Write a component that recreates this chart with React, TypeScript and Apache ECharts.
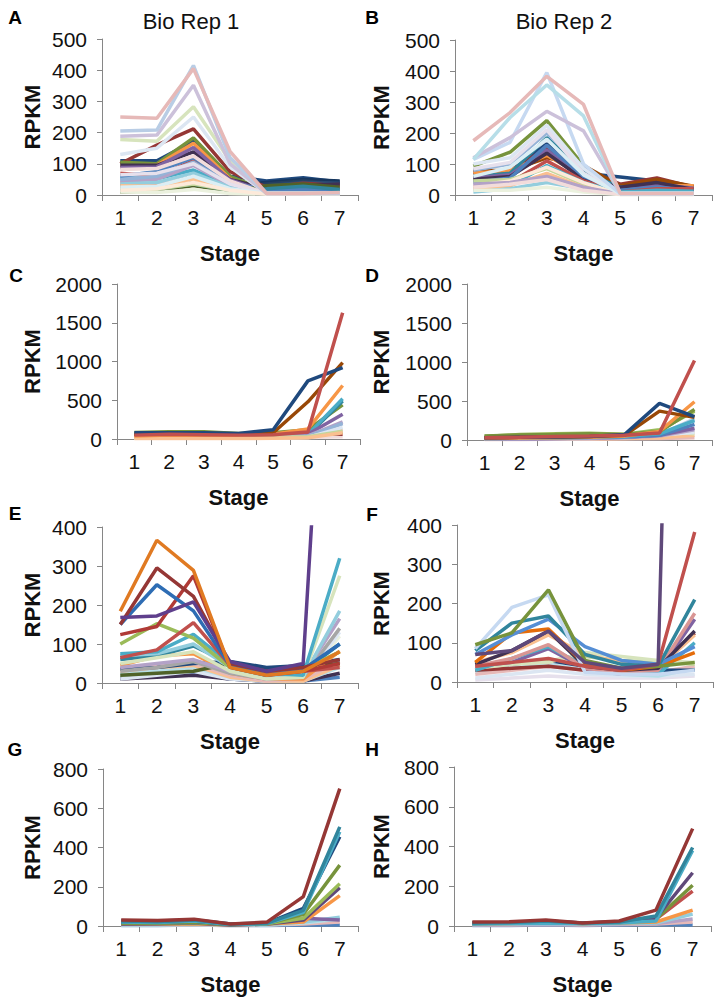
import React, { useEffect, useRef } from "react";
import * as echarts from "echarts";

const stages = ["1", "2", "3", "4", "5", "6", "7"];

// Panel A – Bio Rep 1
const repA: number[][] = [
  [110, 110, 172, 60, 45, 55, 42],
  [30, 35, 60, 30, 40, 50, 45],
  [25, 28, 50, 25, 35, 45, 35],
  [20, 22, 40, 20, 30, 40, 38],
  [100, 160, 212, 75, 25, 38, 30],
  [70, 60, 110, 40, 20, 30, 25],
  [105, 100, 183, 60, 15, 20, 20],
  [92, 95, 166, 52, 5, 8, 10],
  [95, 95, 138, 50, 20, 30, 35],
  [88, 90, 152, 48, 10, 15, 20],
  [55, 52, 80, 30, 10, 22, 15],
  [60, 75, 120, 40, 15, 18, 15],
  [10, 12, 30, 10, 30, 35, 25],
  [15, 20, 35, 15, 20, 28, 18],
  [40, 35, 55, 20, 5, 5, 5],
  [45, 50, 95, 30, 5, 5, 5],
  [35, 40, 70, 25, 5, 5, 5],
  [30, 28, 50, 18, 5, 5, 5],
  [20, 18, 35, 15, 5, 5, 5],
  [50, 60, 105, 35, 5, 5, 5],
  [130, 150, 250, 90, 5, 5, 5],
  [82, 85, 125, 45, 5, 5, 5],
  [10, 8, 18, 5, 3, 3, 3],
  [65, 70, 100, 35, 5, 5, 5],
  [25, 28, 60, 20, 5, 5, 5],
  [15, 20, 40, 15, 3, 3, 3],
  [178, 172, 283, 110, 5, 5, 5],
  [188, 192, 352, 100, 5, 5, 5],
  [205, 208, 415, 120, 5, 5, 5],
  [250, 246, 405, 140, 5, 5, 8],
];
const colA = [
  "#1F497D", "#17375E", "#254061", "#2C4D75", "#953735", "#C0504D", "#77933C", "#F79646",
  "#403152", "#8064A2", "#4BACC6", "#4F81BD", "#4F6228", "#31859C", "#D99694", "#B3A2C7",
  "#93CDDD", "#FAC090", "#C3D69B", "#95B3D7", "#DCE6F2", "#F2DCDB", "#EBF1DE", "#E6E0EC",
  "#DBEEF4", "#FDEADA", "#D7E4BD", "#CCC1DA", "#B9CDE5", "#E6B9B8",
];

// Panel B – Bio Rep 2
const repB: number[][] = [
  [65, 75, 165, 70, 58, 45, 20],
  [75, 80, 150, 85, 35, 55, 25],
  [80, 78, 120, 95, 30, 50, 28],
  [70, 80, 128, 60, 20, 30, 30],
  [93, 138, 240, 95, 10, 25, 15],
  [60, 70, 185, 75, 25, 30, 20],
  [55, 65, 145, 55, 20, 35, 22],
  [50, 60, 135, 50, 25, 40, 18],
  [40, 55, 160, 60, 15, 25, 15],
  [30, 40, 110, 45, 10, 20, 20],
  [20, 30, 95, 40, 10, 15, 12],
  [45, 50, 85, 35, 5, 5, 5],
  [20, 30, 70, 25, 3, 3, 3],
  [30, 45, 90, 40, 3, 3, 3],
  [10, 20, 40, 20, 3, 3, 3],
  [35, 40, 60, 25, 3, 3, 3],
  [15, 15, 25, 10, 2, 2, 2],
  [25, 35, 50, 15, 2, 2, 2],
  [80, 100, 200, 90, 5, 5, 5],
  [100, 120, 225, 85, 5, 5, 5],
  [85, 105, 210, 70, 5, 5, 5],
  [60, 90, 180, 65, 5, 5, 5],
  [115, 170, 395, 100, 5, 5, 5],
  [120, 185, 270, 207, 5, 5, 5],
  [115, 250, 355, 255, 5, 5, 5],
  [175, 266, 383, 292, 5, 5, 5],
];
const colB = [
  "#1F497D", "#953735", "#984807", "#F79646", "#77933C", "#31859C", "#8064A2", "#403152",
  "#4F81BD", "#C0504D", "#4BACC6", "#C3D69B", "#FAC090", "#FDEADA", "#93CDDD", "#B3A2C7",
  "#EBF1DE", "#F2DCDB", "#95B3D7", "#DCE6F2", "#E6E0EC", "#DBEEF4", "#C6D9F1", "#CCC1DA",
  "#B7DEE8", "#E6B9B8",
];

// Panel C
const repC: number[][] = [
  [15, 15, 15, 15, 15, 20, 30],
  [65, 75, 70, 60, 60, 80, 60],
  [85, 95, 95, 70, 80, 120, 440],
  [30, 35, 40, 35, 35, 50, 490],
  [40, 40, 45, 40, 40, 60, 520],
  [30, 35, 35, 30, 35, 60, 320],
  [20, 25, 30, 25, 25, 40, 220],
  [20, 20, 25, 20, 25, 35, 200],
  [10, 10, 15, 10, 15, 25, 120],
  [10, 10, 10, 10, 10, 20, 150],
  [15, 20, 20, 15, 20, 30, 100],
  [5, 5, 10, 5, 10, 15, 80],
  [40, 50, 50, 50, 60, 130, 690],
  [60, 70, 75, 60, 80, 480, 985],
  [80, 80, 80, 70, 120, 750, 920],
  [50, 60, 55, 50, 55, 90, 1630],
];
const colC = [
  "#F2DCDB", "#953735", "#77933C", "#31859C", "#4BACC6", "#8064A2", "#B3A2C7", "#95B3D7",
  "#E6B9B8", "#DCE6F2", "#C3D69B", "#FAC090", "#F79646", "#984807", "#1F497D", "#C0504D",
];

// Panel D
const repD: number[][] = [
  [5, 5, 10, 10, 15, 20, 30],
  [10, 10, 10, 15, 20, 30, 60],
  [40, 55, 60, 70, 60, 120, 80],
  [10, 10, 15, 20, 30, 60, 100],
  [10, 10, 15, 20, 30, 50, 130],
  [15, 15, 20, 25, 35, 60, 150],
  [15, 20, 25, 30, 40, 70, 270],
  [20, 25, 30, 35, 40, 60, 200],
  [20, 25, 30, 35, 45, 80, 250],
  [45, 70, 80, 85, 75, 130, 370],
  [50, 65, 70, 80, 70, 110, 390],
  [20, 25, 30, 35, 50, 110, 490],
  [30, 35, 40, 45, 60, 370, 290],
  [30, 35, 40, 45, 70, 470, 300],
  [30, 35, 45, 50, 60, 90, 1020],
];
const colD = [
  "#E6B9B8", "#FAC090", "#D7E4BD", "#DCE6F2", "#B3A2C7", "#8064A2", "#B9CDE5", "#4F81BD",
  "#4BACC6", "#9BBB59", "#77933C", "#F79646", "#984807", "#1F497D", "#C0504D",
];

// Panel E
const repE: number[][] = [
  [15, 20, 25, 10, 5, 5, 15],
  [10, 15, 20, 10, 5, 5, 25],
  [20, 25, 35, 15, 5, 5, 120],
  [10, 20, 30, 10, 5, 5, 130],
  [25, 30, 40, 15, 5, 5, 40],
  [30, 40, 45, 15, 5, 5, 45],
  [35, 45, 50, 20, 5, 10, 55],
  [20, 25, 30, 50, 35, 40, 50],
  [35, 40, 50, 55, 40, 45, 60],
  [45, 70, 75, 25, 10, 10, 82],
  [60, 70, 95, 50, 25, 30, 100],
  [30, 40, 55, 25, 10, 15, 140],
  [40, 50, 60, 30, 10, 20, 165],
  [70, 75, 100, 40, 15, 15, 185],
  [50, 65, 80, 30, 10, 15, 275],
  [75, 80, 125, 50, 25, 20, 320],
  [100, 152, 115, 40, 20, 35, 80],
  [65, 85, 155, 45, 25, 30, 40],
  [124, 145, 275, 40, 20, 30, 50],
  [150, 252, 185, 45, 20, 35, 100],
  [150, 295, 222, 50, 30, 40, 60],
  [168, 172, 208, 55, 30, 50, 1600],
  [184, 366, 289, 40, 20, 30, 80],
];
const colE = [
  "#4F81BD", "#403152", "#EBF1DE", "#DCE6F2", "#B7DEE8", "#FAC090", "#E6B9B8", "#4F6228",
  "#1F497D", "#F79646", "#31859C", "#A6A6A6", "#B3A2C7", "#93CDDD", "#D7E4BD", "#4BACC6",
  "#9BBB59", "#C0504D", "#B03A36", "#2E6DB4", "#953735", "#5F3F8C", "#E07A22",
];

// Panel F
const repF: number[][] = [
  [5, 10, 15, 10, 10, 10, 15],
  [10, 20, 30, 20, 15, 15, 20],
  [25, 35, 45, 30, 20, 15, 35],
  [20, 30, 40, 30, 20, 25, 40],
  [40, 45, 55, 40, 35, 30, 30],
  [30, 35, 40, 30, 25, 35, 125],
  [45, 50, 55, 65, 55, 50, 45],
  [35, 45, 50, 75, 65, 55, 50],
  [40, 50, 85, 35, 20, 25, 160],
  [30, 60, 90, 40, 25, 20, 100],
  [50, 75, 120, 70, 50, 35, 120],
  [40, 60, 95, 35, 25, 30, 175],
  [45, 80, 130, 40, 30, 35, 130],
  [50, 125, 135, 45, 30, 40, 75],
  [70, 120, 160, 90, 55, 45, 90],
  [80, 150, 168, 70, 45, 40, 210],
  [85, 190, 222, 25, 20, 20, 30],
  [95, 125, 235, 55, 35, 40, 50],
  [40, 50, 60, 40, 30, 45, 382],
  [70, 80, 130, 50, 35, 45, 3500],
];
const colF = [
  "#E6E0EC", "#DCE6F2", "#B7DEE8", "#E6B9B8", "#1F497D", "#953735", "#C3D69B", "#D7E4BD",
  "#8064A2", "#4BACC6", "#FAC090", "#D99694", "#403152", "#E46C0A", "#558ED5", "#31859C",
  "#C6D9F1", "#77933C", "#C0504D", "#5F497A",
];

// Panel G
const repG: number[][] = [
  [3, 3, 5, 3, 3, 5, 5],
  [5, 5, 5, 3, 5, 10, 20],
  [5, 5, 8, 5, 5, 15, 35],
  [8, 8, 10, 5, 8, 20, 45],
  [25, 25, 30, 10, 12, 40, 30],
  [10, 10, 12, 5, 10, 20, 155],
  [10, 12, 15, 5, 10, 30, 195],
  [15, 15, 18, 8, 12, 40, 215],
  [15, 15, 20, 8, 12, 60, 310],
  [20, 20, 25, 8, 15, 90, 455],
  [20, 18, 25, 8, 12, 70, 480],
  [25, 22, 30, 10, 15, 80, 505],
  [30, 28, 35, 10, 20, 150, 700],
];
const colG = [
  "#4F81BD", "#E6B9B8", "#B7DEE8", "#93CDDD", "#8064A2", "#F79646", "#5F497A", "#9BBB59",
  "#77933C", "#1F497D", "#4BACC6", "#31859C", "#953735",
];

// Panel H
const repH: number[][] = [
  [3, 3, 5, 3, 5, 8, 5],
  [5, 5, 8, 5, 8, 10, 20],
  [5, 8, 10, 8, 10, 12, 35],
  [8, 10, 12, 10, 12, 15, 60],
  [10, 12, 15, 12, 15, 20, 80],
  [15, 18, 25, 15, 20, 35, 175],
  [12, 15, 20, 12, 18, 35, 205],
  [15, 18, 22, 15, 20, 40, 268],
  [10, 12, 15, 12, 15, 25, 380],
  [15, 18, 25, 15, 20, 50, 395],
  [20, 22, 30, 15, 25, 80, 490],
];
const colH = [
  "#4F81BD", "#E6B9B8", "#B3A2C7", "#93CDDD", "#F79646", "#C0504D", "#77933C", "#5F497A",
  "#4BACC6", "#31859C", "#953735",
];

const FONT = "'Liberation Sans', Arial, Helvetica, sans-serif";

const panels = [
  { letter: "A", data: repA, colors: colA, max: 500, step: 100, left: 102, right: 358, top: 39, bottom: 195 },
  { letter: "B", data: repB, colors: colB, max: 500, step: 100, left: 455, right: 712, top: 40, bottom: 195 },
  { letter: "C", data: repC, colors: colC, max: 2000, step: 500, left: 117, right: 360, top: 284, bottom: 439 },
  { letter: "D", data: repD, colors: colD, max: 2000, step: 500, left: 467, right: 712, top: 284, bottom: 440 },
  { letter: "E", data: repE, colors: colE, max: 400, step: 100, left: 102, right: 358, top: 527, bottom: 683 },
  { letter: "F", data: repF, colors: colF, max: 400, step: 100, left: 457, right: 713, top: 525, bottom: 682 },
  { letter: "G", data: repG, colors: colG, max: 800, step: 200, left: 103, right: 358, top: 769, bottom: 926 },
  { letter: "H", data: repH, colors: colH, max: 800, step: 200, left: 454, right: 711, top: 767, bottom: 926 },
];

const letterPos: Record<string, [number, number]> = {
  A: [15, 17], B: [372, 17], C: [16, 275], D: [372, 275],
  E: [15, 513], F: [372, 514], G: [15, 749], H: [372, 749],
};

function buildOption() {
  const grid: any[] = [];
  const xAxis: any[] = [];
  const yAxis: any[] = [];
  const series: any[] = [];
  const graphic: any[] = [];
  const axisColor = "#868686";

  panels.forEach((p, i) => {
    grid.push({ left: p.left, top: p.top, width: p.right - p.left, height: p.bottom - p.top, containLabel: false });
    xAxis.push({
      type: "category",
      gridIndex: i,
      data: stages,
      boundaryGap: true,
      axisLine: { show: true, lineStyle: { color: axisColor, width: 1 } },
      axisTick: { show: true, inside: false, length: 6, interval: 0, lineStyle: { color: axisColor } },
      axisLabel: { color: "#111", fontSize: 21, fontFamily: FONT, margin: 12, interval: 0 },
      splitLine: { show: false },
    });
    yAxis.push({
      type: "value",
      gridIndex: i,
      min: 0,
      max: p.max,
      interval: p.step,
      axisLine: { show: true, lineStyle: { color: axisColor, width: 1 } },
      axisTick: { show: true, inside: false, length: 5, lineStyle: { color: axisColor } },
      axisLabel: {
        color: "#111",
        fontSize: 21,
        fontFamily: FONT,
        margin: 15,
        formatter: (v: number) => String(v),
      },
      splitLine: { show: false },
    });
    p.data.forEach((vals, j) => {
      const c = p.colors[j % p.colors.length];
      series.push({
        type: "line",
        name: p.letter + "-" + (j + 1),
        xAxisIndex: i,
        yAxisIndex: i,
        data: vals,
        symbol: "none",
        showSymbol: false,
        smooth: false,
        clip: true,
        silent: true,
        lineStyle: { width: 3.5, color: c },
        itemStyle: { color: c },
      });
    });

    const isLeft = i % 2 === 0;
    const midY = (p.top + p.bottom) / 2;
    graphic.push({
      type: "text",
      x: isLeft ? 32 : 381,
      y: midY,
      rotation: Math.PI / 2,
      style: {
        text: "RPKM",
        fontSize: 22,
        fontWeight: "bold",
        fontFamily: FONT,
        fill: "#111",
        align: "center",
        verticalAlign: "middle",
      },
    });
    graphic.push({
      type: "text",
      x: (p.left + p.right) / 2,
      y: p.bottom + 58,
      style: {
        text: "Stage",
        fontSize: 22,
        fontWeight: "bold",
        fontFamily: FONT,
        fill: "#111",
        align: "center",
        verticalAlign: "middle",
      },
    });
    const lp = letterPos[p.letter];
    graphic.push({
      type: "text",
      x: lp[0],
      y: lp[1],
      style: {
        text: p.letter,
        fontSize: 19,
        fontWeight: "bold",
        fontFamily: FONT,
        fill: "#000",
        align: "center",
        verticalAlign: "middle",
      },
    });
  });

  graphic.push({
    type: "text",
    x: 191,
    y: 21,
    style: { text: "Bio Rep 1", fontSize: 22, fontFamily: FONT, fill: "#111", align: "center", verticalAlign: "middle" },
  });
  graphic.push({
    type: "text",
    x: 564,
    y: 21,
    style: { text: "Bio Rep 2", fontSize: 22, fontFamily: FONT, fill: "#111", align: "center", verticalAlign: "middle" },
  });

  return {
    animation: false,
    backgroundColor: "#ffffff",
    grid,
    xAxis,
    yAxis,
    series,
    graphic,
  };
}

export default function App() {
  const ref = useRef<HTMLDivElement>(null);
  useEffect(() => {
    if (!ref.current) return;
    const chart = echarts.init(ref.current, null, { renderer: "svg" });
    chart.setOption(buildOption() as any);
    return () => {
      chart.dispose();
    };
  }, []);
  return (
    <div
      ref={ref}
      style={{ position: "absolute", left: 0, top: 0, width: 721, height: 1004, background: "#fff" }}
    />
  );
}
